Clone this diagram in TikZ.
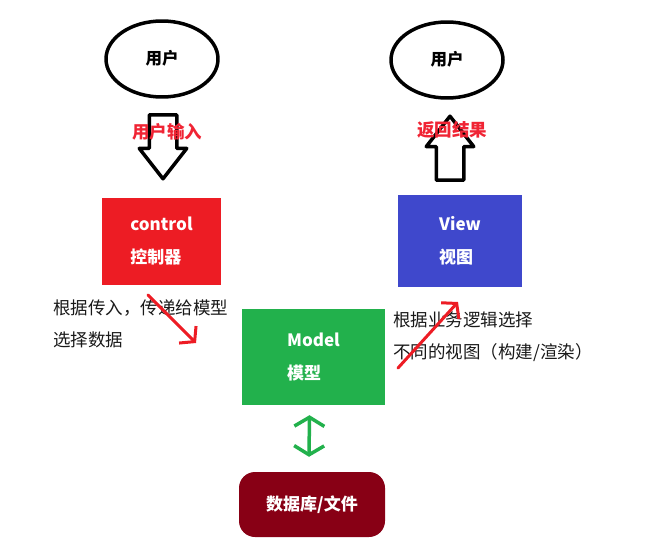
\documentclass[tikz,border=0pt]{standalone}
\usepackage{fontspec}
\setmainfont{Noto Sans CJK SC}
\usetikzlibrary{shapes.geometric,shapes.arrows,arrows.meta}
\definecolor{ctrlred}{RGB}{237,28,36}
\definecolor{viewblue}{RGB}{63,72,204}
\definecolor{modelgreen}{RGB}{34,177,76}
\definecolor{dbred}{RGB}{136,0,21}
\definecolor{notered}{RGB}{240,36,52}
\begin{document}
\begin{tikzpicture}[x=1pt, y=-1pt, line join=round, line cap=round, font=\fontsize{17.5}{32}\selectfont]
    \tikzset{user/.style={draw, ellipse, line width=3.5pt, minimum width=112pt, minimum height=76pt, font=\bfseries\fontsize{16.5}{16.5}\selectfont},
             box/.style={fill=#1, text=white, align=left, inner sep=0pt, font=\bfseries\fontsize{17}{33}\selectfont},
             hollow/.style={draw, fill=white, single arrow, line width=3.5pt, minimum height=64pt, inner sep=12pt,
                            single arrow head extend=10pt, single arrow tip angle=76},
             redline/.style={draw=ctrlred, line width=3pt, -{Straight Barb[length=10pt, width=24pt, line width=3pt]}}}
    \useasboundingbox (0,0) rectangle (658,551);
    % users
    \node[user] (u1) at (162,59) {\raisebox{3pt}{用户}};
    \node[user] (u2) at (447,60) {\raisebox{3pt}{用户}};
    % in / out
    \node[hollow, shape border rotate=270] (in) at (163,138) {};
    \node[hollow, shape border rotate=90] (out) at (450,157) {};
    \node[text=notered, font=\bfseries\fontsize{17.5}{17.5}\selectfont] (inlab) at (167,132) {用户输入};
    \node[text=notered, font=\bfseries\fontsize{17.5}{17.5}\selectfont] (outlab) at (452,130) {返回结果};
    % boxes
    \node[box=ctrlred, minimum width=119pt, minimum height=87pt] (ctrl) at (161.5,241.5) {control\\控制器};
    \node[box=viewblue, minimum width=124pt, minimum height=92pt] (view) at (460,241) {View\\视图};
    \node[box=modelgreen, minimum width=143pt, minimum height=96pt] (model) at (313.5,357) {Model\\模型};
    \node[box=dbred, minimum width=146pt, minimum height=65pt, rounded corners=16pt] (db) at (312,504.5) {数据库/文件};
    % notes
    \node[anchor=west, align=left, inner sep=0pt, text=black!90] (n1) at (53,324) {根据传入，传递给模型\\选择数据};
    \node[anchor=west, align=left, inner sep=0pt, text=black!90] (n2) at (393,337) {根据业务逻辑选择\\不同的视图（构建/渲染）};
    % flows
    \coordinate (c1) at (148,295); \coordinate (m1) at (196,343);
    \coordinate (m2) at (398,368); \coordinate (v1) at (458,302);
    \draw[redline] (c1) -- (m1);
    \draw[redline] (m2) -- (v1);
    \draw[draw=modelgreen, line width=3.5pt, {Straight Barb[length=9pt, width=30pt, line width=3.5pt]}-{Straight Barb[length=9pt, width=30pt, line width=3.5pt]}]
        ([xshift=-4pt, yshift=-10pt]model.south) -- ([xshift=-3pt, yshift=15pt]db.north);
\end{tikzpicture}
\end{document}
